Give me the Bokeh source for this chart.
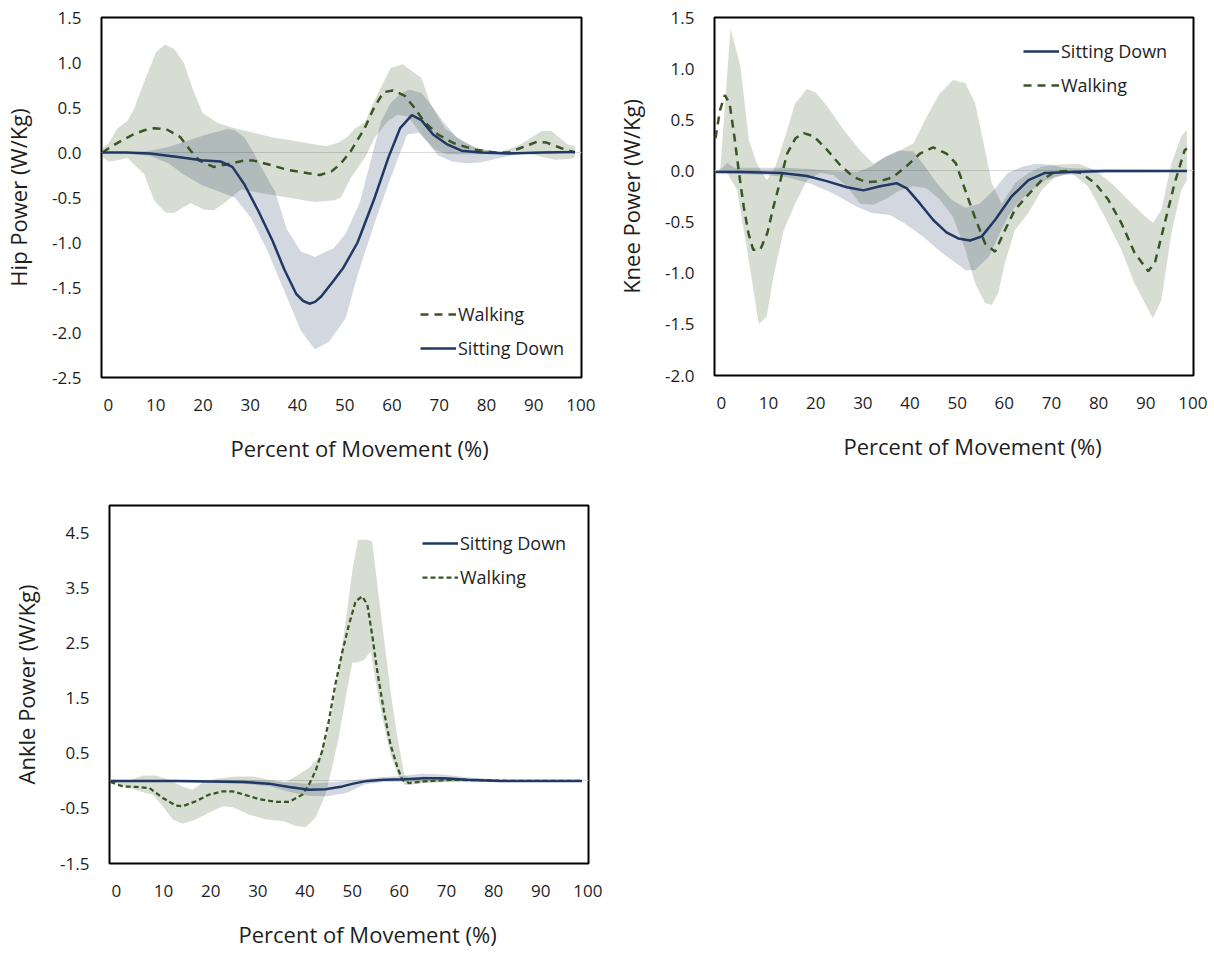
from bokeh.plotting import figure
from bokeh.models import (Legend, LegendItem, FixedTicker, PrintfTickFormatter,
                          Title, Range1d, LinearAxis)
from bokeh.layouts import column, row
from bokeh.embed import file_html
from bokeh.resources import INLINE

# ---------------- data (percent of movement, W/Kg) ----------------
# Hip
hip_sit_x = [0, 5, 10, 16, 21, 25, 27.5, 30, 33, 36, 38.5, 41, 42.5, 43.8, 45, 46.3, 49, 51, 54,
             57.5, 60.5, 63, 65.5, 67.5, 70, 73, 76, 80, 86, 93, 100]
hip_sit_y = [0, 0, -0.01, -0.05, -0.085, -0.1, -0.16, -0.35, -0.65, -0.98, -1.3, -1.57, -1.65,
             -1.68, -1.66, -1.6, -1.42, -1.28, -1.0, -0.52, -0.06, 0.27, 0.415, 0.36, 0.2, 0.09,
             0.02, 0.0, -0.01, 0.0, 0.005]
hip_sit_hi_x = [0, 5, 10, 14, 18, 22, 26.5, 28, 30, 32, 34, 36.5, 39, 42, 45, 49, 51.5, 54.5, 57,
                59, 61, 63, 65, 67.5, 70, 72, 75, 79, 83, 88, 100]
hip_sit_hi = [0, 0.0, 0.02, 0.06, 0.13, 0.2, 0.26, 0.25, 0.17, 0.0, -0.2, -0.43, -0.85, -1.1, -1.16,
              -1.06, -0.9, -0.55, -0.05, 0.35, 0.55, 0.65, 0.7, 0.66, 0.5, 0.35, 0.17, 0.05, 0.015,
              0.0, 0.0]
hip_sit_lo_x = [0, 5, 10, 14, 17, 21, 24.5, 28, 31.5, 35, 38.5, 42, 45, 48, 51.5, 54, 57.5, 61,
                64.5, 67, 69, 71, 74, 77, 80, 84, 88, 92, 100]
hip_sit_lo = [0, -0.01, -0.04, -0.12, -0.24, -0.36, -0.43, -0.5, -0.73, -1.1, -1.54, -1.98, -2.19,
              -2.1, -1.84, -1.36, -0.8, -0.28, 0.2, 0.22, 0.1, -0.03, -0.1, -0.12, -0.11, -0.06,
              -0.02, -0.01, 0.0]
hip_walk_x = [0, 2, 4, 6.5, 9, 11, 13.5, 16.5, 18.5, 20.5, 23.5, 26.5, 30, 32, 35, 39, 43.5, 46,
              48.5, 50.5, 52.5, 55.5, 57.5, 59.5, 61.5, 64, 66, 68, 71, 74.5, 79, 83, 86, 88.5, 92,
              94, 97, 100]
hip_walk_y = [0, 0.07, 0.13, 0.2, 0.25, 0.27, 0.26, 0.17, 0.03, -0.09, -0.16, -0.13, -0.09, -0.09,
              -0.13, -0.19, -0.23, -0.25, -0.21, -0.12, 0.01, 0.27, 0.5, 0.67, 0.69, 0.63, 0.5, 0.35,
              0.2, 0.1, 0.03, 0.0, 0.0, 0.05, 0.12, 0.11, 0.05, 0.0]
hip_walk_hi_x = [0, 1.3, 3.2, 5.3, 6.7, 8.8, 11.3, 13.2, 15.2, 17.3, 19, 21.2, 24.3, 28, 32, 36.5,
                 40.5, 45, 47.5, 50, 52, 53.5, 55.5, 57.5, 61, 63.5, 67.5, 69.5, 72.5, 76, 80, 84.5,
                 88.5, 93, 95, 98.5, 100]
hip_walk_hi = [0.05, 0.1, 0.27, 0.35, 0.49, 0.78, 1.11, 1.2, 1.15, 0.99, 0.72, 0.44, 0.33, 0.27,
               0.22, 0.16, 0.13, 0.09, 0.07, 0.11, 0.18, 0.27, 0.33, 0.57, 0.94, 0.98, 0.83, 0.53,
               0.27, 0.13, 0.03, 0.01, 0.09, 0.24, 0.24, 0.09, 0.07]
hip_walk_lo_x = [0, 1.3, 3, 5.3, 8.8, 11, 13.4, 15.2, 18.7, 21.6, 23.7, 25.8, 29.3, 33.6, 39.2,
                 44.9, 49.1, 50.5, 52.6, 55.5, 57.6, 60.4, 62.5, 64.7, 67.5, 70.3, 73, 79, 84.5, 90,
                 95.8, 99.3, 100]
hip_walk_lo = [-0.05, -0.1, -0.09, -0.06, -0.24, -0.54, -0.67, -0.67, -0.56, -0.64, -0.64, -0.56,
               -0.41, -0.45, -0.5, -0.55, -0.53, -0.5, -0.28, -0.06, 0.16, 0.35, 0.42, 0.4, 0.2,
               0.03, -0.02, -0.02, -0.01, -0.01, -0.08, -0.07, -0.05]

# Knee
knee_walk_x = [0, 1, 2, 3, 4, 5, 6, 7, 8, 9.5, 11, 12.3, 13.8, 15.2, 17, 18.7, 20.8, 23.6, 26.4,
               29.3, 32, 35, 37.7, 40.6, 43.4, 46.2, 49, 51, 53, 55, 57.2, 59.3, 61.4, 63.5, 66.4,
               69.2, 72, 74.8, 77.6, 80.5, 83.3, 86.1, 88.9, 91.8, 93.2, 95.3, 97.4, 99.5, 100]
knee_walk_y = [0.32, 0.6, 0.74, 0.66, 0.34, -0.02, -0.35, -0.61, -0.77, -0.77, -0.61, -0.35, -0.09,
               0.17, 0.32, 0.37, 0.34, 0.21, 0.06, -0.06, -0.11, -0.1, -0.06, 0.05, 0.17, 0.23, 0.17,
               0.075, -0.19, -0.45, -0.71, -0.79, -0.58, -0.38, -0.23, -0.09, -0.01, 0.0, -0.02,
               -0.12, -0.28, -0.51, -0.8, -0.98, -0.9, -0.51, -0.12, 0.2, 0.22]
knee_sit_x = [0, 5, 10, 14, 19.4, 23.6, 27.9, 31.4, 34.9, 38.4, 40.6, 43.4, 46.2, 49, 51.5, 54,
              56.5, 59.3, 62.8, 66.4, 69.9, 75.5, 82.6, 100]
knee_sit_y = [-0.01, -0.01, -0.015, -0.02, -0.05, -0.1, -0.16, -0.19, -0.15, -0.12, -0.17, -0.32,
              -0.48, -0.6, -0.66, -0.68, -0.64, -0.48, -0.25, -0.09, -0.02, -0.01, 0.0, 0.0]
knee_sit_hi_x = [0, 1.5, 2.5, 4, 10, 15, 20, 25, 30, 33, 36, 39, 42, 44, 47, 50, 53, 56, 59, 62,
                 65, 68, 71, 74, 80, 100]
knee_sit_hi = [0.0, 0.03, 0.08, 0.03, 0.03, 0.03, 0.02, 0.0, -0.01, 0.04, 0.14, 0.2, 0.19, 0.07,
               -0.12, -0.28, -0.36, -0.32, -0.19, -0.02, 0.04, 0.07, 0.06, 0.03, 0.02, 0.01]
knee_sit_lo_x = [0, 10, 15, 20, 25, 30, 33, 37, 40, 44, 48, 51, 53, 55, 58, 60, 62, 64, 67, 70,
                 74, 80, 100]
knee_sit_lo = [-0.02, -0.04, -0.06, -0.12, -0.22, -0.35, -0.41, -0.43, -0.51, -0.64, -0.8, -0.9,
               -0.97, -0.97, -0.84, -0.64, -0.45, -0.32, -0.19, -0.09, -0.04, -0.02, -0.01]
knee_walk_hi_x = [1, 3.2, 5.3, 7.1, 8.8, 10.9, 12.7, 14.8, 16.9, 19.4, 21.2, 23.6, 27.2, 30.7,
                  33.5, 36.3, 39.1, 42, 44.8, 47.6, 50.4, 53, 55.1, 57.2, 58.6, 60.7, 63.5, 66.4,
                  69.2, 72, 77, 80.5, 84, 87.5, 90.3, 92.8, 94.6, 96.7, 98.8, 100]
knee_walk_hi = [0.0, 1.39, 1.02, 0.3, 0.07, -0.09, 0.04, 0.34, 0.66, 0.8, 0.77, 0.64, 0.4, 0.2,
                0.07, 0.14, 0.2, 0.27, 0.53, 0.76, 0.89, 0.86, 0.66, 0.2, -0.12, -0.32, -0.12,
                -0.02, 0.04, 0.06, 0.07, 0.01, -0.12, -0.28, -0.41, -0.51, -0.38, 0.07, 0.34, 0.4]
knee_walk_lo_x = [1, 2.5, 4.6, 6.7, 9.2, 10.9, 12.3, 14.5, 16.9, 19.4, 22.2, 25, 27.9, 30.7, 33.5,
                  36.3, 39.1, 42, 44.8, 47.6, 50.4, 53, 55.1, 57.2, 58.6, 60, 61.4, 63.5, 66.4,
                  69.2, 72, 75.5, 79, 82.6, 86.1, 88.9, 91.4, 92.8, 94.6, 96.7, 98.8, 100]
knee_walk_lo = [0.0, -0.02, -0.19, -0.77, -1.5, -1.42, -1.03, -0.58, -0.32, -0.09, -0.02, -0.04,
                -0.15, -0.32, -0.33, -0.27, -0.19, -0.15, -0.17, -0.28, -0.45, -0.77, -1.1, -1.29,
                -1.31, -1.19, -0.9, -0.58, -0.41, -0.19, -0.06, -0.02, -0.15, -0.45, -0.77, -1.1,
                -1.32, -1.44, -1.26, -0.61, -0.19, -0.09]

# Ankle
ank_walk_x = [0, 2.6, 5.4, 8.3, 11.1, 13.9, 15.3, 18.1, 20.9, 23.8, 25.9, 28, 31.5, 35, 37.9,
              40.7, 42.1, 43.5, 44.9, 46.3, 47.7, 49.2, 50.6, 52, 53.4, 54.5, 55.6, 56.6, 58,
              59.4, 60.9, 61.9, 63.3, 66.5, 72.1, 79.2, 85, 100]
ank_walk_y = [-0.02, -0.1, -0.11, -0.13, -0.31, -0.45, -0.46, -0.37, -0.25, -0.19, -0.19, -0.24,
              -0.33, -0.38, -0.38, -0.25, -0.07, 0.18, 0.54, 1.08, 1.75, 2.35, 2.84, 3.26, 3.35,
              3.2, 2.6, 1.99, 1.27, 0.66, 0.24, 0.02, -0.04, -0.01, 0.02, 0.01, 0.0, 0.0]
ank_sit_x = [0, 14, 28, 33.6, 37.9, 42.1, 45.6, 49.2, 51.5, 54.5, 58, 62.3, 66.5, 70.7, 75.7,
             82.7, 100]
ank_sit_y = [0, 0, -0.02, -0.05, -0.11, -0.16, -0.15, -0.1, -0.05, 0, 0.02, 0.03, 0.05, 0.05,
             0.02, 0, 0]
ank_sit_band_x = [0, 14, 28, 34, 38, 42, 46, 50, 54, 58, 62, 66, 70, 76, 83, 100]
ank_sit_hi = [0.02, 0.02, 0.02, 0.0, -0.03, -0.05, -0.03, 0.0, 0.04, 0.07, 0.09, 0.13, 0.12,
              0.06, 0.02, 0.01]
ank_sit_lo = [-0.02, -0.02, -0.05, -0.1, -0.2, -0.27, -0.28, -0.22, -0.06, -0.02, -0.02, -0.01,
              -0.01, -0.01, -0.02, -0.01]
ank_walk_hi_x = [0, 4, 6.8, 9.7, 12.5, 15.3, 17.4, 19.5, 22.4, 26.6, 30.1, 33.6, 37.2, 40, 42.1,
                 44.2, 45.6, 47, 48.4, 49.9, 51.3, 52.5, 54.5, 55.5, 56.6, 58, 59.4, 60.9, 62.3,
                 63.7, 66.5, 72.1, 80, 100]
ank_walk_hi = [0, 0, 0.1, 0.1, 0.02, -0.1, -0.16, -0.04, 0.04, 0.08, 0.08, 0.02, -0.02, 0.12,
               0.24, 0.42, 0.72, 1.27, 1.99, 2.9, 3.81, 4.38, 4.38, 4.35, 3.57, 2.6, 1.63, 0.78,
               0.12, 0.02, 0.08, 0.05, 0.02, 0.0]
ank_walk_lo_x = [0, 4, 6.8, 9, 11.1, 13.2, 15.3, 18.1, 20.9, 23.8, 25.9, 29.4, 33, 36.5, 39.3,
                 41.4, 43.5, 45.6, 47, 48.4, 49.9, 51.3, 52.4, 53.8, 55.2, 56.6, 58, 59.4, 60.9,
                 62.3, 63.7, 66.5, 72.1, 80, 100]
ank_walk_lo = [0, -0.13, -0.2, -0.25, -0.46, -0.7, -0.78, -0.7, -0.58, -0.46, -0.48, -0.61, -0.7,
               -0.73, -0.82, -0.84, -0.67, -0.25, 0.24, 0.78, 1.51, 2.15, 2.15, 2.2, 2.35, 1.63,
               1.02, 0.48, 0.12, -0.07, -0.07, -0.04, -0.02, -0.01, 0.0]

x_ticks = list(range(0, 101, 10))
hip_yticks = [1.5, 1.0, 0.5, 0.0, -0.5, -1.0, -1.5, -2.0, -2.5]
knee_yticks = [1.5, 1.0, 0.5, 0.0, -0.5, -1.0, -1.5, -2.0]
ank_yticks = [4.5, 3.5, 2.5, 1.5, 0.5, -0.5, -1.5]

# ---------------- styling ----------------
FONT = "Open Sans"
TXT = "#1e1e1e"
WALK = "#375623"
SIT = "#1F3864"
XR = (-0.2, 101.4)
LABEL_SHIFT = 1.27   # category labels sit slightly right of the data points
BOTTOM = 102


def make_fig(fw, fh, bl, br, bt, yr, yticks, ylabel):
    p = figure(frame_width=fw, frame_height=fh, x_range=Range1d(*XR), y_range=Range1d(*yr),
               output_backend="svg", toolbar_location=None, x_axis_location=None,
               min_border_left=bl, min_border_right=br, min_border_top=bt,
               min_border_bottom=BOTTOM)
    p.outline_line_color = "black"
    p.outline_line_width = 2
    p.background_fill_color = "white"
    p.border_fill_color = "white"
    p.extra_x_ranges = {"lab": Range1d(XR[0] - LABEL_SHIFT, XR[1] - LABEL_SHIFT)}
    xa = LinearAxis(x_range_name="lab", ticker=FixedTicker(ticks=x_ticks))
    p.add_layout(xa, "below")
    p.yaxis.ticker = FixedTicker(ticks=yticks)
    p.yaxis.formatter = PrintfTickFormatter(format="%.1f")
    for ax in (xa, p.yaxis[0]):
        ax.axis_line_color = None
        ax.major_tick_line_color = None
        ax.minor_tick_line_color = None
        ax.major_tick_out = 0
        ax.major_tick_in = 0
        ax.minor_tick_out = 0
        ax.minor_tick_in = 0
        ax.major_label_text_font = FONT
        ax.major_label_text_font_size = "17px"
        ax.major_label_text_color = TXT
    xa.major_label_standoff = 21
    p.yaxis.major_label_standoff = 20
    p.yaxis.axis_label = ylabel
    p.yaxis.axis_label_text_font = FONT
    p.yaxis.axis_label_text_font_size = "22px"
    p.yaxis.axis_label_text_font_style = "normal"
    p.yaxis.axis_label_text_color = TXT
    p.yaxis.axis_label_standoff = 16
    p.xgrid.visible = False
    p.ygrid.ticker = FixedTicker(ticks=[0])
    p.ygrid.grid_line_color = "#d9d9d9"
    p.ygrid.grid_line_width = 1
    t = Title(text="Percent of Movement (%)", align="left", offset=129,
              text_font=FONT, text_font_size="22px", text_font_style="normal",
              text_color=TXT, standoff=34)
    p.add_layout(t, "below")
    return p


def add_series(p, wx, wy, whx, wh, wlx, wl, sx, sy, shx, sh, slx, sl, walk_dash, walk_w):
    # bands built as closed polygons from upper and lower bounds
    p.patch(x=whx + wlx[::-1], y=wh + wl[::-1], fill_color=WALK, fill_alpha=0.2, line_color=None)
    p.patch(x=shx + slx[::-1], y=sh + sl[::-1], fill_color=SIT, fill_alpha=0.2, line_color=None)
    rw = p.line(wx, wy, line_color=WALK, line_width=walk_w, line_dash=walk_dash)
    rs = p.line(sx, sy, line_color=SIT, line_width=2.5)
    return rw, rs


def add_legend(p, items, loc):
    leg = Legend(items=items, location=loc, border_line_color=None, background_fill_alpha=0,
                 padding=0, margin=0, spacing=10, glyph_width=36, glyph_height=20,
                 label_height=20, label_standoff=2, label_text_font=FONT,
                 label_text_font_size="18px", label_text_color=TXT)
    p.add_layout(leg)


# Hip
p1 = make_fig(480, 360, 101, 29, 16, (-2.5, 1.5), hip_yticks, "Hip Power (W/Kg)")
rw, rs = add_series(p1, hip_walk_x, hip_walk_y, hip_walk_hi_x, hip_walk_hi, hip_walk_lo_x, hip_walk_lo,
                    hip_sit_x, hip_sit_y, hip_sit_hi_x, hip_sit_hi, hip_sit_lo_x, hip_sit_lo,
                    "8 6", 2.5)
add_legend(p1, [LegendItem(label="Walking", renderers=[rw]),
                LegendItem(label="Sitting Down", renderers=[rs])], (319, 17))

# Knee
p2 = make_fig(479, 358, 104, 17, 17, (-2.0, 1.5), knee_yticks, "Knee Power (W/Kg)")
rw, rs = add_series(p2, knee_walk_x, knee_walk_y, knee_walk_hi_x, knee_walk_hi, knee_walk_lo_x,
                    knee_walk_lo, knee_sit_x, knee_sit_y, knee_sit_hi_x, knee_sit_hi,
                    knee_sit_lo_x, knee_sit_lo, "8 6", 2.5)
add_legend(p2, [LegendItem(label="Sitting Down", renderers=[rs]),
                LegendItem(label="Walking", renderers=[rw])], (309, 278))

# Ankle
p3 = make_fig(479, 358, 109, 22, 505 - (16 + 360 + BOTTOM), (-1.5, 5.0), ank_yticks,
              "Ankle Power (W/Kg)")
rw, rs = add_series(p3, ank_walk_x, ank_walk_y, ank_walk_hi_x, ank_walk_hi, ank_walk_lo_x,
                    ank_walk_lo, ank_sit_x, ank_sit_y, ank_sit_band_x, ank_sit_hi,
                    ank_sit_band_x, ank_sit_lo, "5 3", 2.25)
add_legend(p3, [LegendItem(label="Sitting Down", renderers=[rs]),
                LegendItem(label="Walking", renderers=[rw])], (313, 274))

layout = column(row(p1, p2), p3)
open("out.html", "w").write(file_html(layout, INLINE))
